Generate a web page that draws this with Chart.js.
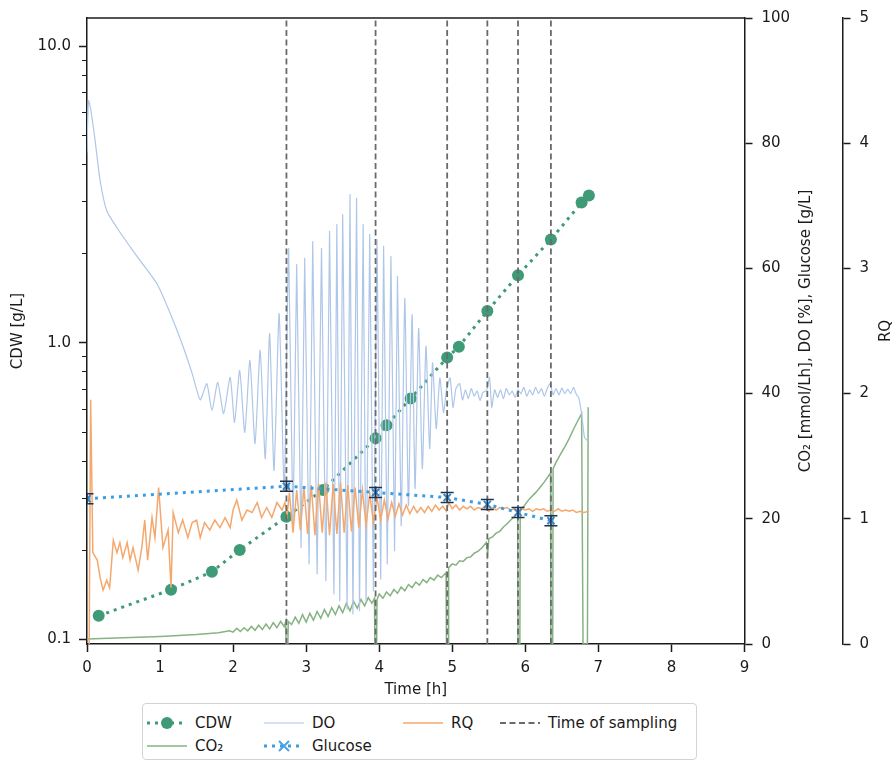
<!DOCTYPE html>
<html>
<head>
<meta charset="utf-8">
<script src="https://cdn.jsdelivr.net/npm/chart.js@4.4.0/dist/chart.umd.min.js"></script>
<style>
  body { margin: 0; background: #fff; }
  #wrap { position: relative; width: 896px; height: 762px; }
  #legend {
    position: absolute; left: 142px; top: 703px; width: 553px; height: 55px;
    border: 1px solid #d3d3d3; border-radius: 4px; background: #fff;
    font-family: 'DejaVu Sans', sans-serif; font-size: 15px; color: #1a1a1a;
  }
  .item { position: absolute; display: flex; align-items: center; height: 20px; white-space: nowrap; }
  .item svg { margin-right: 8px; }
</style>
</head>
<body>
<div id="wrap">
  <canvas id="chart" width="896" height="762"></canvas>
  <div id="legend">
    <div class="item" style="left:4px; top:9px;">
      <svg width="40" height="16"><line x1="0" y1="8" x2="40" y2="8" stroke="#3f9b77" stroke-width="3" stroke-dasharray="3 5"/><circle cx="20" cy="8" r="6" fill="#3f9b77"/></svg>CDW
    </div>
    <div class="item" style="left:4px; top:32px;">
      <svg width="40" height="16"><line x1="0" y1="8" x2="40" y2="8" stroke="#86b383" stroke-width="1.5"/></svg>CO₂
    </div>
    <div class="item" style="left:121px; top:9px;">
      <svg width="40" height="16"><line x1="0" y1="8" x2="40" y2="8" stroke="#aec6e8" stroke-width="1.2"/></svg>DO
    </div>
    <div class="item" style="left:121px; top:32px;">
      <svg width="40" height="16"><line x1="0" y1="8" x2="40" y2="8" stroke="#3c9ee0" stroke-width="3" stroke-dasharray="3 5"/><path d="M15 3 L25 13 M25 3 L15 13" stroke="#4aa3e6" stroke-width="2"/></svg>Glucose
    </div>
    <div class="item" style="left:260px; top:9px;">
      <svg width="40" height="16"><line x1="0" y1="8" x2="40" y2="8" stroke="#f4a86e" stroke-width="1.5"/></svg>RQ
    </div>
    <div class="item" style="left:357px; top:9px;">
      <svg width="40" height="16"><line x1="0" y1="8" x2="40" y2="8" stroke="#6a6a6a" stroke-width="1.8" stroke-dasharray="6 3.5"/></svg>Time of sampling
    </div>
  </div>
</div>
<script>
// Cell dry weight (log axis)
const cdwTime = [0.16, 1.15, 1.71, 2.09, 2.73, 3.23, 3.95, 4.10, 4.43, 4.93, 5.09, 5.48, 5.90, 6.35, 6.77, 6.87];
const cdwValue = [0.120, 0.147, 0.169, 0.200, 0.259, 0.319, 0.476, 0.527, 0.649, 0.891, 0.970, 1.28, 1.69, 2.23, 2.97, 3.14];
const cdwTicks = [0.1, 0.2, 0.3, 0.4, 0.5, 0.6, 0.7, 0.8, 0.9, 1, 2, 3, 4, 5, 6, 7, 8, 9, 10];

// Glucose with error bars (right axis)
const glucoseTime = [0.00, 2.73, 3.95, 4.93, 5.48, 5.90, 6.35];
const glucoseValue = [23.2, 25.2, 24.2, 23.4, 22.3, 21.0, 19.7];
const glucoseError = [0.8, 0.8, 0.8, 0.8, 0.8, 0.8, 0.8];

// Sampling times
const samplingTime = [2.73, 3.95, 4.93, 5.48, 5.90, 6.35];

// Dissolved oxygen [%]
const doTime = [0.00, 0.02, 0.05, 0.11, 0.18, 0.27, 0.41, 0.63, 0.73, 0.96, 1.14, 1.30, 1.44, 1.55,
  1.64, 1.71, 1.79, 1.87, 1.96, 2.02, 2.09, 2.16, 2.23, 2.30, 2.37, 2.44, 2.50, 2.56, 2.63, 2.70,
  2.76, 2.82, 2.87, 2.93, 2.98, 3.04, 3.09, 3.15, 3.21, 3.27, 3.32, 3.38, 3.42, 3.46, 3.50, 3.56,
  3.60, 3.64, 3.69, 3.73, 3.78, 3.82, 3.87, 3.92, 3.97, 4.02, 4.06, 4.11, 4.16, 4.21, 4.25, 4.30,
  4.35, 4.40, 4.45, 4.49, 4.54, 4.59, 4.64, 4.69, 4.73, 4.78, 4.83, 4.88,
  4.92, 4.97, 5.01, 5.05, 5.10, 5.14, 5.18, 5.22, 5.26, 5.30, 5.34, 5.38, 5.42, 5.47, 5.51, 5.54,
  5.58, 5.62, 5.66, 5.70, 5.74, 5.78, 5.82, 5.86, 5.90, 5.94, 5.98, 6.02, 6.06, 6.10, 6.14, 6.18,
  6.22, 6.26, 6.30, 6.34, 6.38, 6.42, 6.46, 6.50, 6.54, 6.58, 6.62, 6.66, 6.70, 6.73, 6.77, 6.81, 6.85];
const doValue = [78.5, 86.8, 85.5, 80.5, 74.0, 69.2, 66.5, 62.8, 61.2, 57.5, 52.8, 48.0, 43.2, 39.0,
  41.6, 37.3, 41.8, 36.8, 42.6, 35.4, 43.7, 33.8, 45.3, 32.0, 46.9, 29.6, 49.6, 27.7, 52.8, 24.5,
  63.2, 18.1, 60.6, 15.4, 61.6, 12.8, 64.3, 11.2, 63.2, 10.1, 65.9, 8.0, 67.0, 6.9, 68.6, 5.6,
  71.8, 4.8, 71.2, 5.3, 67.0, 6.9, 65.4, 8.5, 64.6, 10.4, 63.5, 12.8, 61.9, 14.9, 58.7, 18.9,
  55.2, 22.1, 52.6, 24.8, 50.4, 28.0, 47.6, 31.2, 44.9, 34.4, 42.5, 37.0,
  40.5, 42.5, 37.8, 40.8, 41.6, 39.0, 40.6, 39.2, 40.8, 39.6, 40.4, 38.9, 40.2, 40.5, 42.6, 37.8,
  40.6, 39.4, 40.6, 39.2, 40.8, 39.8, 40.4, 39.4, 40.6, 40.0, 41.0, 39.6, 40.6, 39.8, 41.0, 40.0,
  40.8, 39.6, 40.8, 41.6, 39.8, 40.8, 39.8, 40.9, 40.0, 40.7, 40.0, 41.0, 39.8, 39.4, 36.8, 33.0, 32.5];

// CO2 [mmol/Lh]
const co2Time = [0.00, 0.50, 1.00, 1.50, 1.80, 1.95,
  2.00, 2.05, 2.10, 2.15, 2.20, 2.25, 2.30, 2.35, 2.40, 2.45, 2.50, 2.55, 2.60, 2.65, 2.70, 2.72, 2.725, 2.75, 2.755,
  2.80, 2.85, 2.90, 2.95, 3.00, 3.05, 3.10, 3.15, 3.20, 3.25, 3.30, 3.35, 3.40, 3.45, 3.50, 3.55, 3.60, 3.65, 3.70, 3.75, 3.80, 3.85, 3.90, 3.935, 3.94, 3.965, 3.97,
  4.00, 4.05, 4.10, 4.15, 4.20, 4.25, 4.30, 4.35, 4.40, 4.45, 4.50, 4.55, 4.60, 4.65, 4.70, 4.75, 4.80, 4.85, 4.915, 4.92, 4.945, 4.95,
  5.00, 5.05, 5.10, 5.15, 5.20, 5.25, 5.30, 5.35, 5.40, 5.465, 5.485, 5.50, 5.55, 5.60, 5.65, 5.70, 5.75, 5.80, 5.86, 5.895, 5.90, 5.925, 5.93,
  5.98, 6.05, 6.10, 6.15, 6.20, 6.26, 6.345, 6.35, 6.375, 6.38, 6.42, 6.48, 6.54, 6.60, 6.66, 6.72, 6.77, 6.79, 6.85, 6.86];
const co2Value = [0.8, 1.0, 1.2, 1.5, 1.8, 2.1,
  1.9, 2.5, 2.0, 2.6, 2.1, 2.8, 2.2, 3.0, 2.3, 3.2, 2.4, 3.4, 2.6, 3.6, 2.8, 3.6, 0.0, 0.0, 3.6,
  3.1, 4.3, 3.3, 4.7, 3.5, 4.9, 3.8, 5.2, 4.1, 5.5, 4.4, 5.8, 4.7, 6.1, 5.0, 6.5, 5.3, 6.8, 5.7, 7.1, 6.1, 7.4, 6.5, 7.3, 0.0, 0.0, 7.1,
  8.0, 7.3, 8.3, 7.7, 8.7, 8.1, 9.1, 8.5, 9.5, 9.0, 9.9, 9.4, 10.3, 9.8, 10.6, 10.2, 11.0, 10.6, 11.4, 0.0, 0.0, 12.2,
  12.8, 12.6, 13.3, 13.2, 13.8, 13.9, 14.5, 14.8, 15.3, 16.2, 14.4, 16.8, 17.1, 17.7, 18.0, 18.7, 19.2, 19.8, 20.5, 21.0, 0.0, 0.0, 21.5,
  22.0, 23.1, 23.7, 24.3, 25.0, 25.9, 27.3, 0.0, 0.0, 28.0, 29.0, 30.3, 31.5, 32.8, 34.3, 35.7, 36.8, 0.0, 0.0, 37.8];

// Respiratory quotient
const rqTime = [0.03, 0.05, 0.08, 0.14, 0.18, 0.22, 0.27, 0.31, 0.36, 0.41, 0.45, 0.49, 0.55, 0.59, 0.63, 0.70, 0.75, 0.79, 0.83, 0.89,
  0.93, 0.98, 1.04, 1.11, 1.15, 1.18, 1.25, 1.31, 1.38, 1.44, 1.50, 1.55, 1.61, 1.68, 1.75, 1.82, 1.89, 1.96, 2.00, 2.05,
  2.12, 2.19, 2.26, 2.33, 2.39, 2.46, 2.53, 2.60, 2.67, 2.71, 2.74,
  2.77, 2.82, 2.87, 2.92, 2.97, 3.02, 3.07, 3.12, 3.17, 3.22, 3.27, 3.32, 3.37, 3.42, 3.47, 3.52, 3.57, 3.62, 3.67, 3.72,
  3.77, 3.82, 3.87, 3.92, 3.97, 4.02, 4.07, 4.12, 4.17, 4.22, 4.27, 4.32, 4.37, 4.42, 4.47, 4.52, 4.57, 4.62,
  4.67, 4.72, 4.77, 4.82, 4.87, 4.92, 4.95, 5.00, 5.05, 5.10, 5.15, 5.20, 5.25, 5.30, 5.35, 5.40, 5.45, 5.50, 5.55, 5.60,
  5.65, 5.70, 5.75, 5.80, 5.85, 5.90, 5.95, 6.00, 6.05, 6.10, 6.15, 6.20, 6.25, 6.30, 6.35, 6.40, 6.45, 6.50, 6.55, 6.60,
  6.65, 6.70, 6.75, 6.80, 6.87];
const rqValue = [0.00, 1.95, 0.73, 0.67, 0.53, 0.43, 0.51, 0.45, 0.83, 0.73, 0.81, 0.69, 0.81, 0.67, 0.77, 0.59, 0.77, 0.99, 0.67, 1.01,
  0.85, 1.25, 0.77, 0.91, 0.45, 1.05, 0.89, 0.99, 0.85, 0.97, 0.99, 0.85, 0.97, 0.91, 0.99, 0.93, 1.01, 0.93, 1.07, 1.15,
  0.99, 1.07, 1.05, 1.13, 1.01, 1.09, 1.01, 1.13, 1.07, 1.13, 1.03,
  1.21, 0.89, 1.23, 0.91, 1.25, 0.88, 1.27, 0.87, 1.28, 0.89, 1.29, 0.87, 1.28, 0.88, 1.29, 0.89, 1.27, 0.90, 1.25, 0.93,
  1.23, 0.95, 1.20, 0.97, 1.17, 0.99, 1.15, 1.00, 1.13, 1.02, 1.12, 1.03, 1.11, 1.04, 1.10, 1.05, 1.09, 1.05,
  1.10, 1.06, 1.11, 1.07, 1.10, 1.06, 1.13, 1.08, 1.11, 1.07, 1.10, 1.08, 1.10, 1.07, 1.09, 1.08, 1.10, 1.06, 1.09, 1.07,
  1.09, 1.08, 1.09, 1.07, 1.08, 1.06, 1.08, 1.07, 1.08, 1.06, 1.08, 1.07, 1.08, 1.06, 1.07, 1.06, 1.08, 1.06, 1.07, 1.06,
  1.07, 1.05, 1.06, 1.05, 1.06];

const INK = '#1a1a1a';
Chart.defaults.font.family = "'DejaVu Sans', sans-serif";
Chart.defaults.font.size = 15;
Chart.defaults.color = INK;

function toPoints(times, values) {
    return times.map((t, i) => ({ x: t, y: values[i] }));
}

function isDecade(v) {
    const l = Math.log10(v);
    return Math.abs(l - Math.round(l)) < 1e-6;
}

const samplingPoints = [];
samplingTime.forEach(t => {
    samplingPoints.push({ x: t, y: 0 }, { x: t, y: 100 }, { x: t, y: null });
});

const gridOpts = {
    drawOnChartArea: false,
    drawTicks: true,
    tickLength: 8,
    tickWidth: 1.5,
    tickColor: INK
};
const borderOpts = { display: true, color: INK, width: 1.5 };

// Extra drawing: top spine, minor log ticks, glucose error bars, right axis titles
const extrasPlugin = {
    id: 'extras',
    afterDatasetsDraw(chart) {
        const { ctx, chartArea } = chart;
        const xs = chart.scales.x;
        const y1 = chart.scales.y1;
        ctx.save();
        ctx.beginPath();
        ctx.rect(chartArea.left, chartArea.top, chartArea.right - chartArea.left, chartArea.bottom - chartArea.top);
        ctx.clip();
        ctx.strokeStyle = '#1d3350';
        ctx.lineWidth = 1.5;
        glucoseTime.forEach((t, i) => {
            const px = xs.getPixelForValue(t);
            const top = y1.getPixelForValue(glucoseValue[i] + glucoseError[i]);
            const bot = y1.getPixelForValue(glucoseValue[i] - glucoseError[i]);
            ctx.beginPath();
            ctx.moveTo(px, top); ctx.lineTo(px, bot);
            ctx.moveTo(px - 6.5, top); ctx.lineTo(px + 6.5, top);
            ctx.moveTo(px - 6.5, bot); ctx.lineTo(px + 6.5, bot);
            ctx.stroke();
        });
        ctx.restore();
    },
    afterDraw(chart) {
        const { ctx, chartArea } = chart;
        ctx.save();
        ctx.strokeStyle = INK;
        ctx.lineWidth = 1.5;
        ctx.beginPath();
        ctx.moveTo(chartArea.left - 0.75, chartArea.top);
        ctx.lineTo(chartArea.right + 0.75, chartArea.top);
        ctx.stroke();

        const ys = chart.scales.y;
        ctx.lineWidth = 1.2;
        ctx.beginPath();
        ys.ticks.forEach(t => {
            if (!isDecade(t.value)) {
                const py = Math.round(ys.getPixelForValue(t.value)) + 0.5;
                ctx.moveTo(ys.right - 5, py);
                ctx.lineTo(ys.right, py);
            }
        });
        ctx.stroke();

        ctx.fillStyle = INK;
        ctx.font = "15px 'DejaVu Sans', sans-serif";
        ctx.textAlign = 'center';
        ctx.textBaseline = 'middle';
        const cy = (chartArea.top + chartArea.bottom) / 2;
        const titles = [
            [chart.scales.y1.right - 36, 'CO₂ [mmol/Lh], DO [%], Glucose [g/L]'],
            [chart.scales.y2.right - 10, 'RQ']
        ];
        titles.forEach(([x, text]) => {
            ctx.save();
            ctx.translate(x, cy);
            ctx.rotate(-Math.PI / 2);
            ctx.fillText(text, 0, 0);
            ctx.restore();
        });
        ctx.restore();
    }
};

new Chart(document.getElementById('chart'), {
    type: 'line',
    data: {
        datasets: [
            {
                label: 'Time of sampling',
                data: samplingPoints,
                yAxisID: 'y1',
                borderColor: '#6a6a6a',
                borderWidth: 1.8,
                borderDash: [6, 3.5],
                pointRadius: 0,
                spanGaps: false,
                order: 0
            },
            {
                label: 'Glucose',
                data: toPoints(glucoseTime, glucoseValue),
                yAxisID: 'y1',
                borderColor: '#3c9ee0',
                borderWidth: 3,
                borderDash: [3, 5],
                pointStyle: 'crossRot',
                pointRadius: 5,
                pointBorderWidth: 2,
                pointBorderColor: '#3a86c8',
                order: 1
            },
            {
                label: 'RQ',
                data: toPoints(rqTime, rqValue),
                yAxisID: 'y2',
                borderColor: '#f4a86e',
                borderWidth: 1.5,
                pointRadius: 0,
                order: 2
            },
            {
                label: 'DO',
                data: toPoints(doTime, doValue),
                yAxisID: 'y1',
                borderColor: '#aec6e8',
                borderWidth: 1.2,
                pointRadius: 0,
                tension: 0.2,
                order: 3
            },
            {
                label: 'CO₂',
                data: toPoints(co2Time, co2Value),
                yAxisID: 'y1',
                borderColor: '#86b383',
                borderWidth: 1.5,
                pointRadius: 0,
                order: 4
            },
            {
                label: 'CDW',
                data: toPoints(cdwTime, cdwValue),
                yAxisID: 'y',
                borderColor: '#3f9b77',
                borderWidth: 3,
                borderDash: [3, 5],
                pointRadius: 6,
                pointBorderWidth: 0,
                pointBackgroundColor: '#3f9b77',
                order: 5
            }
        ]
    },
    options: {
        responsive: false,
        animation: false,
        events: [],
        layout: { padding: { top: 15, bottom: 62, left: 0, right: 0 } },
        plugins: {
            legend: { display: false },
            tooltip: { enabled: false }
        },
        scales: {
            x: {
                type: 'linear',
                position: 'bottom',
                min: 0,
                max: 9,
                ticks: { stepSize: 1, padding: 7 },
                grid: gridOpts,
                border: borderOpts,
                title: { display: true, text: 'Time [h]', padding: { top: 0, bottom: 1 } },
                afterFit: s => { s.height = 56; }
            },
            y: {
                type: 'logarithmic',
                position: 'left',
                min: 0.0964,
                max: 12.45,
                afterBuildTicks: s => { s.ticks = cdwTicks.map(v => ({ value: v })); },
                ticks: {
                    autoSkip: false,
                    padding: 8,
                    callback: v => isDecade(v) ? Number(v).toFixed(1) : ''
                },
                grid: Object.assign({}, gridOpts, {
                    tickColor: c => (c.tick && isDecade(c.tick.value)) ? INK : 'rgba(0,0,0,0)'
                }),
                border: borderOpts,
                title: { display: true, text: 'CDW [g/L]', padding: { top: 9 } },
                afterFit: s => { s.width = 87; }
            },
            y1: {
                type: 'linear',
                position: 'right',
                weight: 0,
                min: 0,
                max: 100,
                ticks: { stepSize: 20, padding: 9 },
                grid: gridOpts,
                border: borderOpts,
                afterFit: s => { s.width = 98; }
            },
            y2: {
                type: 'linear',
                position: 'right',
                weight: 1,
                min: 0,
                max: 5,
                ticks: { stepSize: 1, padding: 9 },
                grid: gridOpts,
                border: borderOpts,
                afterFit: s => { s.width = 53.5; }
            }
        }
    },
    plugins: [extrasPlugin]
});
</script>
</body>
</html>
